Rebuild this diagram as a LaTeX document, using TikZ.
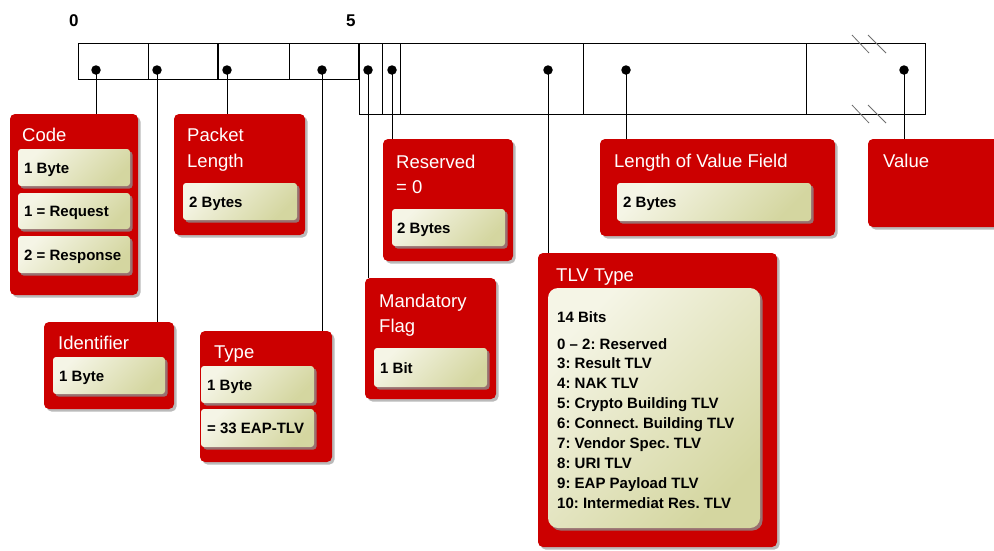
\documentclass[tikz,border=0pt]{standalone}
\usepackage{fontspec}
\setmainfont{Liberation Sans}
\usetikzlibrary{fit,shadows}
\frenchspacing
\definecolor{boxred}{RGB}{204,0,0}
\definecolor{inA}{RGB}{245,245,230}
\definecolor{inB}{RGB}{212,214,160}
\definecolor{shd}{RGB}{140,140,140}
\definecolor{slashc}{RGB}{110,110,110}
\tikzset{
  redbox/.style={fill=boxred, rounded corners=5pt, inner sep=0pt, draw=none,
    drop shadow={shadow xshift=2.5pt, shadow yshift=-2.5pt, fill=shd, opacity=0.6}},
  inbox/.style={top color=inA, bottom color=inB, shading angle=45, rounded corners=3pt,
    inner sep=0pt, draw=none,
    drop shadow={shadow xshift=2.5pt, shadow yshift=-2.5pt, fill=shd, opacity=0.8}},
  ttl/.style={text=white, font=\fontsize{18.5}{22}\selectfont, inner sep=0pt, anchor=base west},
  itx/.style={text=black, font=\bfseries\fontsize{15}{18}\selectfont, inner sep=0pt, anchor=base west},
  num/.style={text=black, font=\bfseries\fontsize{17}{20}\selectfont, inner sep=0pt, anchor=base west},
  fld/.style={line width=1pt, draw=black},
  dotn/.style={circle, fill=black, inner sep=0pt, minimum size=9.5pt},
  conn/.style={line width=0.9pt, draw=black},
  slash/.style={line width=0.8pt, draw=slashc},
}
\begin{document}
\begin{tikzpicture}[x=1pt,y=-1pt]
\useasboundingbox (0,0) rectangle (994,550);

% bit numbers
\node[num] (n0) at (69,26) {0};
\node[num] (n5) at (346,26) {5};

% field rectangle
\draw[fld] (78,43) rectangle (359,79);
\draw[fld] (359,43) rectangle (925,114);
\draw[fld] (148,43) -- (148,79);
\draw[line width=1.8pt] (218,43) -- (218,79);
\draw[fld] (289,43) -- (289,79);
\draw[line width=1.6pt] (359,43) -- (359,79);
\draw[fld] (382,43) -- (382,114);
\draw[fld] (400,43) -- (400,114);
\draw[fld] (583,43) -- (583,114);
\draw[fld] (806,43) -- (806,114);
% break marks
\draw[slash] (852,35) -- (869,53);
\draw[slash] (868,35) -- (886,53);
\draw[slash] (852,105) -- (869,123);
\draw[slash] (868,105) -- (886,123);

% dots
\node[dotn] (dcode) at (96,70) {};
\node[dotn] (dident) at (157,70) {};
\node[dotn] (dplen) at (227,70) {};
\node[dotn] (dtype) at (322,70) {};
\node[dotn] (dmand) at (368,70) {};
\node[dotn] (dresv) at (392,70) {};
\node[dotn] (dtlv) at (548,70) {};
\node[dotn] (dlenv) at (626,70) {};
\node[dotn] (dval) at (904,70) {};

% boxes
\node[redbox, fit={(10,114)(138,295)}] (code) {};
\node[inbox, fit={(18,149)(130,186)}] (code1) {};
\node[inbox, fit={(18,193)(130,229)}] (code2) {};
\node[inbox, fit={(18,236)(130,273)}] (code3) {};
\node[ttl] (tcode) at (22,141) {Code};
\node[itx] (xcode1) at (24,173) {1 Byte};
\node[itx] (xcode2) at (24,216.5) {1 = Request};
\node[itx] (xcode3) at (24,260) {2 = Response};

\node[redbox, fit={(174,114)(305,235)}] (plen) {};
\node[inbox, fit={(183,183)(297,220)}] (plen1) {};
\node[ttl] (tplen1) at (187,141) {Packet};
\node[ttl] (tplen2) at (187,167.5) {Length};
\node[itx] (xplen1) at (189,207) {2 Bytes};

\node[redbox, fit={(44,322)(174,409)}] (ident) {};
\node[inbox, fit={(53,357)(165,394)}] (ident1) {};
\node[ttl] (tident) at (58,349) {Identifier};
\node[itx] (xident1) at (59,381) {1 Byte};

\node[redbox, fit={(200,331)(332,462)}] (type) {};
\node[inbox, fit={(201,366)(314,403)}] (type1) {};
\node[inbox, fit={(201,409)(314,447)}] (type2) {};
\node[ttl] (ttype) at (214,358) {Type};
\node[itx] (xtype1) at (207,390) {1 Byte};
\node[itx] (xtype2) at (207,433.5) {= 33 EAP-TLV};

\node[redbox, fit={(383,139)(513,261)}] (resv) {};
\node[inbox, fit={(392,209)(505,246)}] (resv1) {};
\node[ttl] (tresv1) at (396,168) {Reserved};
\node[ttl] (tresv2) at (396,193.5) {= 0};
\node[itx] (xresv1) at (397,233) {2 Bytes};

\node[redbox, fit={(365,278)(496,399)}] (mand) {};
\node[inbox, fit={(374,348)(487,387)}] (mand1) {};
\node[ttl] (tmand1) at (379,307) {Mandatory};
\node[ttl] (tmand2) at (379,332.5) {Flag};
\node[itx] (xmand1) at (380,373) {1 Bit};

\node[redbox, fit={(538,253)(777,547)}] (tlv) {};
\node[inbox, rounded corners=10pt, fit={(548,288)(760,528)}] (tlv1) {};
\node[ttl] (ttlv) at (556,281) {TLV Type};
\node[itx] (xtlv0) at (557,322) {14 Bits};
\foreach \t [count=\i from 0] in {0 – 2: Reserved, 3: Result TLV, 4: NAK TLV,
  5: Crypto Building TLV, 6: Connect. Building TLV, 7: Vendor Spec. TLV,
  8: URI TLV, 9: EAP Payload TLV, 10: Intermediat Res. TLV}
  \node[itx] (xtlvl\i) at (557,349+19.9*\i) {\t};

\node[redbox, fit={(600,139)(835,236)}] (lenv) {};
\node[inbox, fit={(617,183)(811,221)}] (lenv1) {};
\node[ttl] (tlenv) at (614,167) {Length of Value Field};
\node[itx] (xlenv1) at (623,207.5) {2 Bytes};

\node[redbox, fit={(868,139)(1000,227)}] (val) {};
\node[ttl] (tval) at (883,167) {Value};

% connectors
\draw[conn] (dcode.center) -- (dcode.center |- code.north);
\draw[conn] (dident.center) -- (dident.center |- ident.north);
\draw[conn] (dplen.center) -- (dplen.center |- plen.north);
\draw[conn] (dtype.center) -- (dtype.center |- type.north);
\draw[conn] (dmand.center) -- (dmand.center |- mand.north);
\draw[conn] (dresv.center) -- (dresv.center |- resv.north);
\draw[conn] (dtlv.center) -- (dtlv.center |- tlv.north);
\draw[conn] (dlenv.center) -- (dlenv.center |- lenv.north);
\draw[conn] (dval.center) -- (dval.center |- val.north);
\end{tikzpicture}
\end{document}
